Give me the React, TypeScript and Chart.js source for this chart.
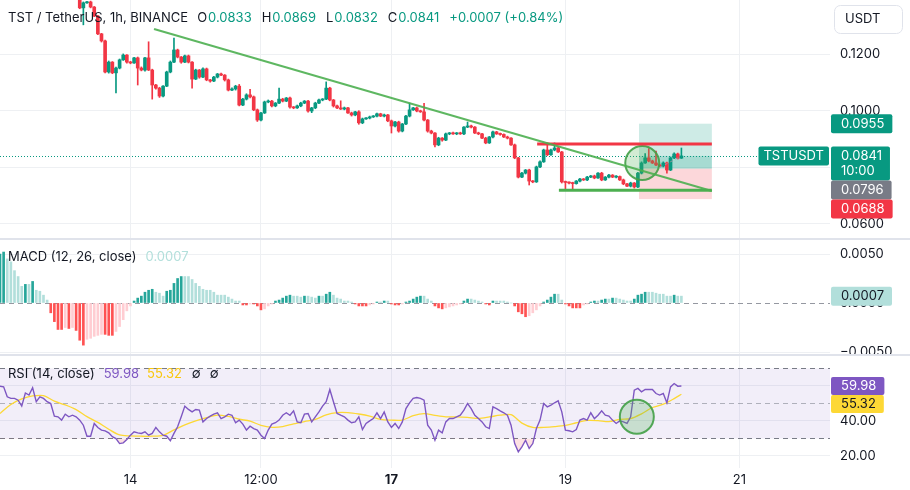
import React, { useEffect, useRef } from 'react';
import { Chart, registerables } from 'chart.js';

Chart.register(...registerables);

const FONT = 'Inter, "Noto Sans", "DejaVu Sans", sans-serif';
const TEXT = '#131722';
const UP = '#089981';
const DOWN = '#f23645';
const GRID = '#eef0f3';
const SEP = '#e0e3eb';

const W = 910;
const AXIS_W = 80;
const PRICE_H = 238;
const MACD_H = 114;
const RSI_H = 134;

// time axis: hours counted from the 13th 00:00
const X_MIN = 0;
const X_MAX = 229;
const tickHours = [36, 72, 108, 156, 204];
const tickLabels = ['14', '12:00', '17', '19', '21'];
const boldLabel = '17';

const symbolTitle = 'TST / TetherUS, 1h, BINANCE';
const symbolTag = 'TSTUSDT';
const countdown = '10:00';
const changeText = '+0.0007 (+0.84%)';
const currency = 'USDT';

// candles (hourly)
const FIRST_CANDLE = 22;
const firstOpen = 0.14;
const closes = [
  0.1365, 0.1383, 0.1386, 0.1368, 0.1336, 0.1273, 0.1248, 0.1138, 0.1173, 0.1135,
  0.1152, 0.1181, 0.1198, 0.1173, 0.1170, 0.1188, 0.1152, 0.1145, 0.1188, 0.1145,
  0.1092, 0.1081, 0.1053, 0.1088, 0.1138, 0.1173, 0.1216, 0.1191, 0.1173, 0.1195,
  0.1173, 0.1113, 0.1145, 0.1120, 0.1149, 0.1110, 0.1106, 0.1120, 0.1131, 0.1127,
  0.1110,
  0.1074, 0.1078, 0.1088, 0.1021, 0.1042, 0.1057, 0.1050, 0.1004, 0.0968, 0.0993,
  0.1032, 0.1035, 0.1018, 0.1028, 0.1042, 0.1035, 0.1046, 0.1014, 0.1011, 0.1018,
  0.1028, 0.1035, 0.1000, 0.1011, 0.1028, 0.1039, 0.1042, 0.1081, 0.1039, 0.1018,
  0.1011, 0.1007, 0.1011, 0.0993, 0.0986, 0.0997, 0.0958, 0.0972, 0.0975, 0.0979,
  0.0982, 0.0990, 0.0982, 0.0986, 0.0965, 0.0947, 0.0961, 0.0929, 0.0954, 0.0982,
  0.1004, 0.1011, 0.1000, 0.0997, 0.0968, 0.0929, 0.0922, 0.0880, 0.0904, 0.0897,
  0.0919, 0.0922, 0.0919, 0.0922,
  0.0919, 0.0943, 0.0947, 0.0943, 0.0922, 0.0919, 0.0904, 0.0887, 0.0908, 0.0926,
  0.0919, 0.0917, 0.0908, 0.0904, 0.0880, 0.0834, 0.0766, 0.0780, 0.0791, 0.0752,
  0.0749, 0.0802, 0.0820, 0.0862, 0.0845, 0.0862, 0.0869, 0.0855, 0.0749, 0.0747,
  0.0745, 0.0743, 0.0752, 0.0759, 0.0756, 0.0766, 0.0770, 0.0763, 0.0780, 0.0756,
  0.0766, 0.0773, 0.0766, 0.0768, 0.0756, 0.0742, 0.0734, 0.0745, 0.0731, 0.0780,
  0.0816, 0.0834, 0.0823, 0.0816, 0.0809, 0.0805, 0.0816, 0.0791, 0.0834, 0.0848,
  0.0833, 0.0841,
];
// wick lengths in units of 0.0001
const wickUp = [
  5, 3, 2, 3, 2, 3, 2, 3, 4, 2, 3, 3, 4, 2, 3, 2, 3, 4, 2, 57,
  3, 2, 3, 2, 3, 4, 42, 3, 2, 3, 3, 2, 3, 2, 4, 3, 2, 3, 2, 3, 2,
  3, 4, 3, 6, 3, 4, 20, 3, 3, 2, 3, 4, 3, 2, 39, 3, 2, 3, 2, 3,
  3, 2, 3, 2, 3, 3, 2, 22, 3, 2, 3, 25, 3, 2, 3, 2, 4, 3, 2, 3,
  2, 3, 2, 3, 2, 3, 2, 3, 2, 3, 24, 2, 3, 3, 30, 2, 3, 2, 3, 2,
  3, 2, 3, 2,
  3, 2, 14, 3, 2, 3, 2, 3, 2, 3, 2, 3, 2, 3, 2, 3, 2, 3, 2, 3,
  2, 3, 4, 3, 25, 3, 18, 3, 2, 3, 2, 3, 2, 3, 2, 3, 2, 3, 2, 3,
  2, 3, 2, 3, 2, 3, 2, 3, 2, 3, 4, 15, 33, 3, 42, 3, 4, 3, 3, 4,
  3, 28,
];
const wickDown = [
  3, 60, 2, 3, 2, 3, 4, 3, 4, 3, 71, 3, 2, 4, 3, 2, 60, 3, 4, 2,
  50, 4, 5, 3, 2, 3, 2, 3, 4, 2, 3, 32, 2, 4, 2, 3, 4, 2, 3, 2, 4,
  3, 2, 4, 3, 2, 3, 4, 3, 5, 3, 2, 3, 4, 3, 2, 3, 2, 4, 3, 2,
  3, 2, 4, 6, 3, 2, 3, 2, 3, 4, 3, 2, 3, 2, 4, 3, 5, 3, 2, 3,
  2, 3, 2, 3, 3, 25, 3, 4, 3, 2, 3, 2, 3, 2, 3, 4, 3, 7, 3, 4,
  2, 3, 2, 3,
  2, 3, 2, 3, 2, 3, 2, 3, 2, 3, 2, 3, 2, 3, 2, 3, 3, 2, 3, 14,
  3, 2, 3, 2, 3, 2, 3, 2, 4, 26, 3, 20, 2, 3, 2, 3, 2, 3, 2, 3,
  2, 3, 2, 3, 2, 3, 2, 3, 4, 2, 3, 2, 3, 2, 3, 2, 3, 11, 2, 3,
  3, 1,
];

const priceMin = 0.05504;
const priceMax = 0.13929;
const priceTicks = [0.06, 0.08, 0.1, 0.12];

// drawings [hour, price]
const trendLine = [[42.5, 0.129], [196.4, 0.0717]];
const resistanceLine = [[148.2, 0.0883], [196.4, 0.0883]];
const supportLine = [[154.2, 0.0719], [196.4, 0.0719]];
const positionPath = [[182, 0.08], [187.6, 0.0838]];
const positionRange = [176.3, 196.4];
const positionTarget = 0.0955;
const positionEntry = 0.0796;
const positionStop = 0.0688;
const priceCircle = [177.2, 0.0816];

// MACD histogram in units of 0.0001
const macdHist = [
  50, 52, 45, 42, 33, 27, 17, 19, 19, 22, 13, 12, 8, 3,
  -10, -19, -27, -27, -25, -26, -25, -28, -38, -43, -37, -36, -34, -33, -32, -32, -33, -33, -29, -24, -17, -8, -3,
  2, 5, 7, 11, 13, 14, 11, 10, 7, 12, 13, 20, 25, 27, 27, 27, 24, 20, 17, 14, 13, 13, 11, 8, 8, 8, 6, 4, 2, 2,
  -2, -2, -1, -1, -3, -7, -6, -3, -1,
  2, 3, 5, 7, 8, 7, 7, 6, 7, 7, 6, 5, 7, 7, 9, 11, 8, 5, 4, 2, 2, 1,
  -1, -3, -3, -3, -2, -1,
  1, 1, 2, 2,
  -1, -2, -2, -1,
  1, 2, 4, 6, 7, 7, 4, 2,
  -3, -5, -6, -5,
  -4, -3, -2, -1,
  2, 4, 4, 3, 2, 1,
  -1, -2,
  2, 2, 2, 2, 1, 0,
  -3, -9, -11, -14, -13, -10, -7, -3,
  1, 3, 6, 9, 9, 3,
  -1, -3, -5, -5, -5, -2, -1,
  1, 2, 2, 3, 4, 4, 5, 5, 4, 3, 2, 2,
  4, 8, 9, 11, 11, 11, 10, 9, 9, 7, 7, 8, 7, 7,
];
const macdMin = -0.005204;
const macdMax = 0.006429;
const macdTicks = [-0.005, 0, 0.005];

const rsi = [
  59.9, 59.5, 53.8, 52.9, 52.9, 51.9, 48.5, 56, 54.8, 59, 51, 53.8, 52.9, 51, 50, 42.8, 42.4, 40.5, 43.9, 42.4,
  43.3, 42.4, 40.5, 37.6, 31.3, 31.3, 38.6, 36.3, 34.8, 34.4, 33.2, 31, 30, 27.1, 27.5, 29.4, 31.9, 33.8, 33.2, 32.9,
  33.8, 31.9, 32.9, 36.3, 33.8, 31.9, 31.3, 28.7, 32.9, 36.7, 42.4, 48.5, 46.6, 45.2, 46.6, 46.2, 39.5, 41.4, 42.8, 43.9,
  44.7, 41.4, 42.4, 43.9, 43.3, 39, 40.5, 38.2, 34.8, 37, 35.7, 34.8, 31.9, 30, 34.8, 38.2, 39, 40.5, 43.3, 44.7,
  43.3, 45.8, 39.5, 39, 43.9, 44.3, 39.5, 42.4, 45.2, 48.5, 51, 58,
  51, 44.3, 43.3, 42.4, 40.5, 39, 39.5, 42.4, 35.1, 38.6, 40.1, 41.4, 44.7, 41.4, 45.2, 39.5, 36.3, 38.6, 35.7, 39.5,
  47.1, 50.4, 52.9, 53.4, 52.9, 51.9, 37.6, 34.8, 29, 34.8, 33.2, 39.5, 41.4,
  41.4, 42.4, 43.3, 46.2, 50, 47.1, 43.3, 41.4, 39.5, 36.7, 35.7, 48.1, 47.1, 45.8, 44.7, 43.3, 37.6, 27.1, 22.4, 25.2,
  29, 24.3, 27.1, 35.7, 40.5, 50, 48.1, 49, 50.4, 51.5, 45.2, 34.8, 34.4, 33.8, 35.1, 40.5, 41.4, 40.5, 44.7, 41.4,
  43.3, 45.8, 43.3, 42.8, 40.5, 38.6, 40.1, 39.5, 38.6, 42.4, 57.6, 58.6, 56.7, 58, 58, 58, 55.7, 54.8, 55.7, 50.4,
  59.5, 61.4, 59.9, 59.98,
];
// RSI-based moving average, one reading every MA_STEP hours
const MA_STEP = 3;
const rsiMA = [
  44.3, 49.4, 52.6, 54.3, 54.5, 51.3, 49.2, 46.5, 42.5, 39.2, 35.3, 32, 31.5, 31.3, 31.3, 31.8, 34.9, 37.8, 40.1, 41.9,
  43.4, 42.6, 41, 39.9, 37.5, 36.4, 36.8, 38.4, 39.7, 40.9, 43.5, 44.8, 44.8, 44, 42.8, 40.9, 40.5, 40.5, 43, 44.2,
  43.2, 42.4, 42.4, 42.1, 41.5, 42.3, 43.3, 43.6, 38.8, 36.3, 36.4, 36.8, 37.5, 39, 40.3, 40.2, 39.6, 40.9, 41.4, 44.1,
  47.7, 49.6, 52.8, 55.32,
];
const rsiMin = 13.14;
const rsiMax = 77.14;
const rsiTicks = [20, 40, 60];
const rsiBandLow = 30;
const rsiBandHigh = 70;
const rsiMid = 50;
const rsiCircle = [175.7, 42.4];

// ---------- derived ----------
const LAST = FIRST_CANDLE + closes.length - 1;
const opens = closes.map((c, k) => (k === 0 ? firstOpen : closes[k - 1]));
const highs = closes.map((c, k) => Math.max(opens[k], c) + wickUp[k] * 1e-4);
const lows = closes.map((c, k) => Math.min(opens[k], c) - wickDown[k] * 1e-4);
const candleColors = closes.map((c, k) => (c >= opens[k] ? UP : DOWN));
const lastIdx = closes.length - 1;
const lastClose = closes[lastIdx];

const macdColors = macdHist.map((v, i) => {
  const prev = i === 0 ? -Infinity : macdHist[i - 1];
  if (v >= 0) return prev < v ? '#26a69a' : '#b2dfdb';
  return prev < v ? '#ffcdd2' : '#ff5252';
});

const f4 = (v: number) => (v < 0 ? '\u2212' : '') + Math.abs(v).toFixed(4);

function xScale(showLabels: boolean) {
  return {
    type: 'linear',
    min: X_MIN,
    max: X_MAX,
    offset: false,
    afterBuildTicks: (s: any) => {
      s.ticks = tickHours.map((v) => ({ value: v }));
    },
    afterFit: (s: any) => {
      s.height = showLabels ? 22 : 0;
      s.paddingLeft = 0;
      s.paddingRight = 0;
    },
    ticks: {
      display: showLabels,
      autoSkip: false,
      maxRotation: 0,
      padding: 4,
      color: TEXT,
      callback: (v: number) => {
        const k = tickHours.indexOf(v);
        return k >= 0 ? tickLabels[k] : '';
      },
      font: (ctx: any) => {
        const k = ctx.tick ? tickHours.indexOf(ctx.tick.value) : -1;
        return { family: FONT, size: 13, weight: k >= 0 && tickLabels[k] === boldLabel ? 'bold' : 'normal' };
      },
    },
    grid: { color: GRID, drawTicks: false, offset: false },
    border: { display: false },
  };
}

function yScale(min: number, max: number, ticks: number[], fmt: (v: number) => string, hideZero = false) {
  return {
    type: 'linear',
    position: 'right',
    min,
    max,
    afterBuildTicks: (s: any) => {
      s.ticks = ticks.map((v) => ({ value: v }));
    },
    afterFit: (s: any) => {
      s.width = AXIS_W;
      s.paddingTop = 0;
      s.paddingBottom = 0;
    },
    ticks: {
      autoSkip: false,
      padding: 10,
      color: TEXT,
      font: { family: FONT, size: 13 },
      callback: (v: number) => fmt(v),
    },
    grid: {
      drawTicks: false,
      color: (ctx: any) => (hideZero && ctx.tick && ctx.tick.value === 0 ? 'rgba(0,0,0,0)' : GRID),
    },
    border: { display: false },
  };
}

const baseOptions = (scales: any) => ({
  responsive: false,
  animation: false,
  events: [],
  layout: { padding: 0, autoPadding: false },
  plugins: { legend: { display: false }, tooltip: { enabled: false } },
  scales,
});

function drawSegments(ctx: CanvasRenderingContext2D, x: number, y: number, segs: [string, string, number][]) {
  ctx.save();
  ctx.font = `13px ${FONT}`;
  ctx.textBaseline = 'middle';
  ctx.textAlign = 'left';
  let cx = x;
  for (const [t, c, gap] of segs) {
    ctx.fillStyle = c;
    ctx.fillText(t, cx, y);
    cx += ctx.measureText(t).width + gap;
  }
  ctx.restore();
}

function rrect(ctx: CanvasRenderingContext2D, x: number, y: number, w: number, h: number, r: number) {
  ctx.beginPath();
  if ((ctx as any).roundRect) (ctx as any).roundRect(x, y, w, h, r);
  else ctx.rect(x, y, w, h);
}

function drawTag(ctx: CanvasRenderingContext2D, left: number, top: number, height: number, lines: string[], bg: string, fg: string) {
  ctx.save();
  ctx.font = `13px ${FONT}`;
  const textX = left + 10;
  const tw = Math.max(...lines.map((l) => ctx.measureText(l).width));
  const w = textX - left + tw + 8;
  ctx.fillStyle = bg;
  rrect(ctx, left, top, w, height, 2);
  ctx.fill();
  ctx.fillStyle = fg;
  ctx.textBaseline = 'middle';
  ctx.textAlign = 'left';
  lines.forEach((l, i) => ctx.fillText(l, textX, top + 9.5 + i * 15.5));
  ctx.restore();
}

const pts = (arr: number[][]) => arr.map(([x, y]) => ({ x, y }));

function priceConfig(): any {
  const candleX = closes.map((_, k) => FIRST_CANDLE + k);
  const overlay = {
    id: 'priceOverlay',
    beforeDatasetsDraw(chart: any) {
      const { ctx, chartArea: a, scales } = chart;
      const x = scales.x, y = scales.y;
      const x0 = x.getPixelForValue(positionRange[0]);
      const x1 = x.getPixelForValue(positionRange[1]);
      const yT = y.getPixelForValue(positionTarget);
      const yE = y.getPixelForValue(positionEntry);
      const yS = y.getPixelForValue(positionStop);
      const yC = y.getPixelForValue(lastClose);
      ctx.save();
      ctx.fillStyle = 'rgba(8,153,129,0.2)';
      ctx.fillRect(x0, yT, x1 - x0, yE - yT);
      ctx.fillRect(x0, yC, x1 - x0, yE - yC);
      ctx.fillStyle = 'rgba(242,54,69,0.2)';
      ctx.fillRect(x0, yE, x1 - x0, yS - yE);
      ctx.strokeStyle = UP;
      ctx.lineWidth = 1;
      ctx.setLineDash([1, 2]);
      ctx.beginPath();
      ctx.moveTo(a.left, Math.round(yC) + 0.5);
      ctx.lineTo(a.right, Math.round(yC) + 0.5);
      ctx.stroke();
      ctx.restore();
    },
    afterDraw(chart: any) {
      const { ctx, chartArea: a, scales } = chart;
      const y = scales.y;
      const yC = y.getPixelForValue(lastClose);
      const left = a.right + 1;
      drawTag(ctx, left, y.getPixelForValue(positionTarget) - 9.5, 19, [positionTarget.toFixed(4)], UP, '#fff');
      const curTop = yC - 9.5;
      drawTag(ctx, left, curTop, 34, [lastClose.toFixed(4), countdown], UP, '#fff');
      const entryTop = Math.max(y.getPixelForValue(positionEntry) - 9.5, curTop + 34);
      drawTag(ctx, left, entryTop, 19, [positionEntry.toFixed(4)], '#787b86', '#fff');
      const stopTop = Math.max(y.getPixelForValue(positionStop) - 9.5, entryTop + 19);
      drawTag(ctx, left, stopTop, 19, [positionStop.toFixed(4)], DOWN, '#fff');
      // symbol tag to the left of the price scale
      ctx.save();
      ctx.font = `13px ${FONT}`;
      const sw = ctx.measureText(symbolTag).width + 10;
      ctx.fillStyle = UP;
      rrect(ctx, a.right - 1 - sw, curTop, sw, 19, 2);
      ctx.fill();
      ctx.fillStyle = '#fff';
      ctx.textBaseline = 'middle';
      ctx.fillText(symbolTag, a.right - 1 - sw + 5, curTop + 9.5);
      // currency button
      ctx.strokeStyle = SEP;
      ctx.fillStyle = '#fff';
      ctx.lineWidth = 1;
      rrect(ctx, a.right + 4.5, 5.5, 68, 28, 6);
      ctx.fill();
      ctx.stroke();
      ctx.fillStyle = TEXT;
      ctx.fillText(currency, a.right + 15, 19.5);
      ctx.restore();
      // legend
      drawSegments(ctx, 8, 18, [
        [symbolTitle, TEXT, 9],
        ['O', TEXT, 1], [opens[lastIdx].toFixed(4), UP, 10],
        ['H', TEXT, 1], [highs[lastIdx].toFixed(4), UP, 10],
        ['L', TEXT, 1], [lows[lastIdx].toFixed(4), UP, 10],
        ['C', TEXT, 1], [lastClose.toFixed(4), UP, 10],
        [changeText, UP, 0],
      ]);
    },
  };
  return {
    type: 'bar',
    data: {
      datasets: [
        { type: 'line', data: pts(trendLine), borderColor: 'rgba(76,175,80,0.9)', borderWidth: 2, pointRadius: 0, order: 0 },
        { type: 'line', data: pts(resistanceLine), borderColor: DOWN, borderWidth: 3, pointRadius: 0, order: 0 },
        { type: 'line', data: pts(supportLine), borderColor: '#4caf50', borderWidth: 3, pointRadius: 0, order: 0 },
        { type: 'line', data: pts(positionPath), borderColor: '#9598a1', borderWidth: 1, borderDash: [3, 3], pointRadius: 0, order: 0 },
        {
          type: 'line', data: pts([priceCircle]), showLine: false, pointRadius: 17,
          pointBackgroundColor: 'rgba(76,175,80,0.25)', pointBorderColor: 'rgba(67,160,71,0.9)', pointBorderWidth: 2, order: 0,
        },
        {
          type: 'bar', data: candleX.map((x, k) => ({ x, y: [opens[k], closes[k]] })),
          backgroundColor: candleColors, barThickness: 3, grouped: false, minBarLength: 1, order: 1,
        },
        {
          type: 'bar', data: candleX.map((x, k) => ({ x, y: [lows[k], highs[k]] })),
          backgroundColor: candleColors, barThickness: 1, grouped: false, order: 2,
        },
      ],
    },
    options: baseOptions({ x: xScale(false), y: yScale(priceMin, priceMax, priceTicks, (v) => v.toFixed(4)) }),
    plugins: [overlay],
  };
}

function macdConfig(): any {
  const last = macdHist.length - 1;
  const overlay = {
    id: 'macdOverlay',
    beforeDatasetsDraw(chart: any) {
      const { ctx, chartArea: a, scales } = chart;
      const y0 = Math.round(scales.y.getPixelForValue(0)) + 0.5;
      ctx.save();
      ctx.strokeStyle = '#9598a1';
      ctx.lineWidth = 1;
      ctx.setLineDash([5, 4]);
      ctx.beginPath();
      ctx.moveTo(a.left, y0);
      ctx.lineTo(a.right, y0);
      ctx.stroke();
      ctx.restore();
    },
    afterDraw(chart: any) {
      const { ctx, chartArea: a, scales } = chart;
      const v = macdHist[last] * 1e-4;
      drawTag(ctx, a.right + 1, scales.y.getPixelForValue(v) - 9.5, 19, [f4(v)], macdColors[last], TEXT);
      drawSegments(ctx, 8, 17, [['MACD (12, 26, close)', TEXT, 9], [f4(v), macdColors[last], 0]]);
    },
  };
  return {
    type: 'bar',
    data: {
      datasets: [
        {
          data: macdHist.map((v, i) => ({ x: i, y: v * 1e-4 })),
          backgroundColor: macdColors, barThickness: 2, grouped: false,
        },
      ],
    },
    options: baseOptions({ x: xScale(false), y: yScale(macdMin, macdMax, macdTicks, f4, true) }),
    plugins: [overlay],
  };
}

function rsiConfig(): any {
  const overlay = {
    id: 'rsiOverlay',
    beforeDatasetsDraw(chart: any) {
      const { ctx, chartArea: a, scales } = chart;
      const y = scales.y;
      const yh = y.getPixelForValue(rsiBandHigh);
      const yl = y.getPixelForValue(rsiBandLow);
      const ym = y.getPixelForValue(rsiMid);
      ctx.save();
      ctx.fillStyle = 'rgba(126,87,194,0.1)';
      ctx.fillRect(a.left, yh, a.right - a.left, yl - yh);
      ctx.lineWidth = 1;
      ctx.setLineDash([5, 4]);
      const line = (yy: number, c: string) => {
        ctx.strokeStyle = c;
        ctx.beginPath();
        ctx.moveTo(a.left, Math.round(yy) + 0.5);
        ctx.lineTo(a.right, Math.round(yy) + 0.5);
        ctx.stroke();
      };
      line(yh, '#787b86');
      line(yl, '#787b86');
      line(ym, 'rgba(120,123,134,0.55)');
      ctx.restore();
    },
    afterDraw(chart: any) {
      const { ctx, chartArea: a, scales } = chart;
      const y = scales.y;
      const r = rsi[rsi.length - 1];
      const m = rsiMA[rsiMA.length - 1];
      const rTop = y.getPixelForValue(r) - 9;
      drawTag(ctx, a.right + 1, rTop, 18, [r.toFixed(2)], '#7e57c2', '#fff');
      const mTop = Math.max(y.getPixelForValue(m) - 9, rTop + 18);
      drawTag(ctx, a.right + 1, mTop, 18, [m.toFixed(2)], '#fdd835', TEXT);
      drawSegments(ctx, 8, 18, [
        ['RSI (14, close)', TEXT, 9],
        [r.toFixed(2), '#7e57c2', 8],
        [m.toFixed(2), '#f9c80e', 10],
        ['\u2205', TEXT, 9],
        ['\u2205', TEXT, 0],
      ]);
    },
  };
  return {
    type: 'line',
    data: {
      datasets: [
        {
          data: pts([rsiCircle]), showLine: false, pointRadius: 17,
          pointBackgroundColor: 'rgba(76,175,80,0.25)', pointBorderColor: 'rgba(67,160,71,0.9)', pointBorderWidth: 2, order: 0,
        },
        {
          data: rsi.map((v, i) => ({ x: i, y: v })), borderColor: '#7e57c2', borderWidth: 1.4, pointRadius: 0, tension: 0,
          fill: { target: { value: rsiBandLow }, above: 'rgba(0,0,0,0)', below: 'rgba(242,54,69,0.15)' }, order: 1,
        },
        {
          data: rsiMA.map((v, k) => ({ x: Math.min(k * MA_STEP, LAST), y: v })), borderColor: '#fdd835', borderWidth: 1.3,
          pointRadius: 0, tension: 0.3, order: 2,
        },
      ],
    },
    options: baseOptions({ x: xScale(true), y: yScale(rsiMin, rsiMax, rsiTicks, (v) => v.toFixed(2)) }),
    plugins: [overlay],
  };
}

function Pane({ top, height, make }: { top: number; height: number; make: () => any }) {
  const ref = useRef<HTMLCanvasElement>(null);
  useEffect(() => {
    if (!ref.current) return;
    const chart = new Chart(ref.current, make());
    return () => chart.destroy();
  }, []);
  return (
    <div style={{ position: 'absolute', left: 0, top, width: W, height }}>
      <canvas ref={ref} width={W} height={height} style={{ width: W, height, display: 'block' }} />
    </div>
  );
}

export default function App() {
  return (
    <div style={{ position: 'fixed', left: 0, top: 0, width: W, height: 490, background: '#fff', overflow: 'hidden' }}>
      <Pane top={0} height={PRICE_H} make={priceConfig} />
      <div style={{ position: 'absolute', left: 0, top: PRICE_H, width: W, height: 2, background: SEP }} />
      <Pane top={PRICE_H + 2} height={MACD_H} make={macdConfig} />
      <div style={{ position: 'absolute', left: 0, top: PRICE_H + 2 + MACD_H, width: W, height: 2, background: SEP }} />
      <Pane top={PRICE_H + 4 + MACD_H} height={RSI_H} make={rsiConfig} />
    </div>
  );
}
